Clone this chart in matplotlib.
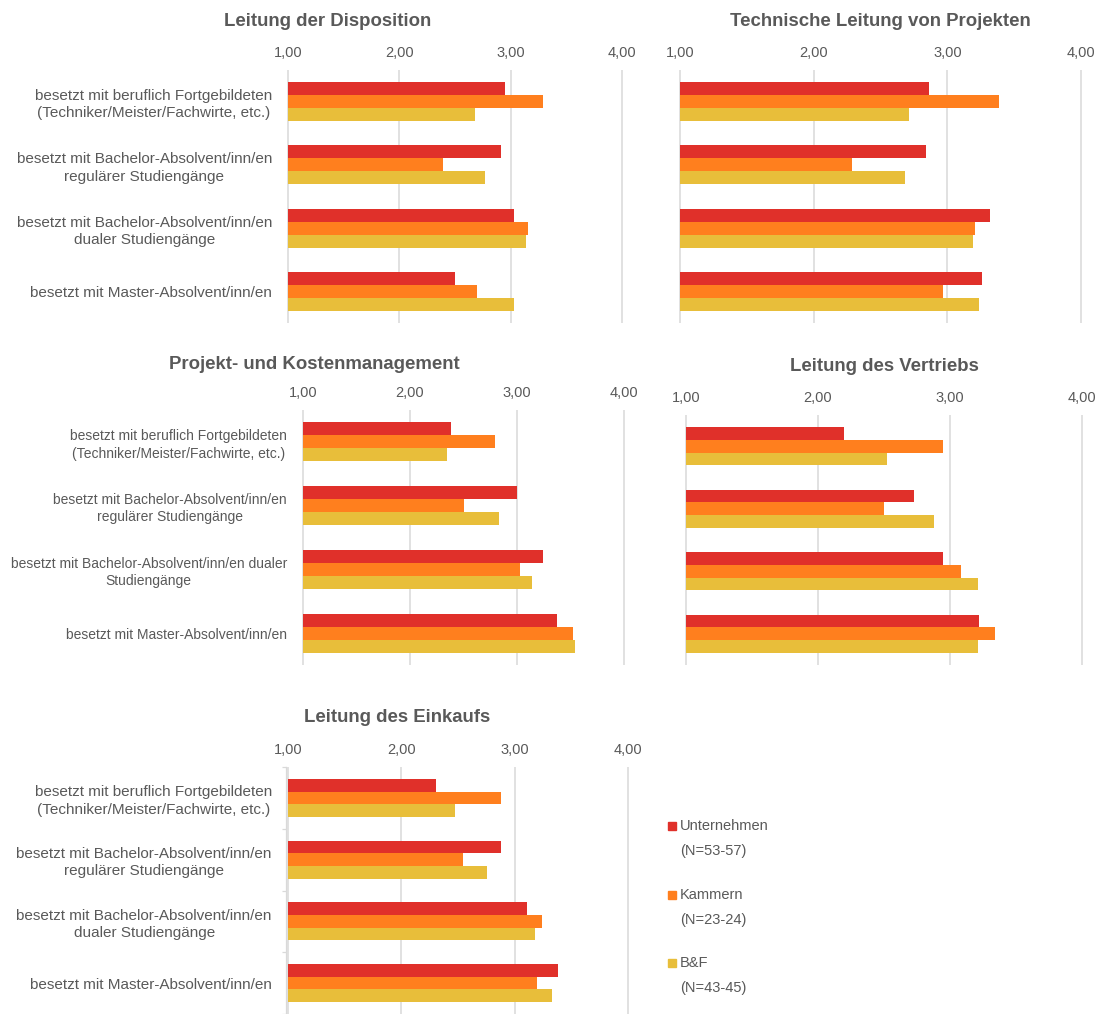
import matplotlib.pyplot as plt
from matplotlib.patches import Rectangle
import numpy as np

# series names and colours
series = ["Unternehmen", "Kammern", "B&F"]
series_n = ["(N=53-57)", "(N=23-24)", "(N=43-45)"]
colors = ["#E0302A", "#FF7F1E", "#E8BE3A"]

labels = ["besetzt mit beruflich Fortgebildeten\n(Techniker/Meister/Fachwirte, etc.)",
          "besetzt mit Bachelor-Absolvent/inn/en\nregulärer Studiengänge",
          "besetzt mit Bachelor-Absolvent/inn/en\ndualer Studiengänge",
          "besetzt mit Master-Absolvent/inn/en"]
labels_pk = ["besetzt mit beruflich Fortgebildeten\n(Techniker/Meister/Fachwirte, etc.)",
             "besetzt mit Bachelor-Absolvent/inn/en\nregulärer Studiengänge",
             "besetzt mit Bachelor-Absolvent/inn/en dualer\nStudiengänge",
             "besetzt mit Master-Absolvent/inn/en"]

ticks = [1, 2, 3, 4]
tick_labels = ["1,00", "2,00", "3,00", "4,00"]

# values per panel: [Unternehmen, Kammern, B&F], one entry per category
dispo_u = [2.95, 2.91, 3.03, 2.50]
dispo_k = [3.29, 2.39, 3.16, 2.70]
dispo_b = [2.68, 2.77, 3.14, 3.03]

techn_u = [2.86, 2.84, 3.32, 3.26]
techn_k = [3.39, 2.29, 3.21, 2.97]
techn_b = [2.71, 2.68, 3.19, 3.24]

pk_u = [2.38, 3.00, 3.24, 3.37]
pk_k = [2.79, 2.50, 3.03, 3.52]
pk_b = [2.35, 2.83, 3.14, 3.54]

vertr_u = [2.20, 2.73, 2.95, 3.22]
vertr_k = [2.95, 2.50, 3.08, 3.34]
vertr_b = [2.52, 2.88, 3.21, 3.21]

eink_u = [2.31, 2.88, 3.11, 3.38]
eink_k = [2.88, 2.54, 3.24, 3.20]
eink_b = [2.47, 2.76, 3.18, 3.33]

W, H = 1105, 1014
fig = plt.figure(figsize=(W / 100, H / 100), dpi=100)
txt = "#595959"
grid_c = "#D9D9D9"
font = "Liberation Sans"


def panel(x1, x4, ytop, ybot, vals, cat_labels, title, tx, ty, lab_fs=11, spine=False):
    ppu = (x4 - x1) / 3.0
    m = 0.02
    left = x1 - m * ppu
    right = x4 + m * ppu
    ax = fig.add_axes([left / W, 1 - ybot / H, (right - left) / W, (ybot - ytop) / H])
    y = np.arange(4)
    for i, v in enumerate(vals):
        ax.barh(y + (i - 1) * 0.205, np.array(v) - 1, left=1, height=0.205,
                color=colors[i], zorder=3)
    ax.set_xlim(1 - m, 4 + m)
    ax.set_ylim(3.5, -0.5)
    ax.set_xticks(ticks)
    ax.set_xticklabels(tick_labels, color=txt, fontsize=10.5, family=font)
    ax.xaxis.tick_top()
    ax.tick_params(axis="x", length=0, pad=7)
    ax.grid(axis="x", color=grid_c, linewidth=1.1, zorder=0)
    for s in ax.spines.values():
        s.set_visible(False)
    if spine:
        ax.spines["left"].set_visible(True)
        ax.spines["left"].set_color(grid_c)
        ax.spines["left"].set_linewidth(0.9)
        ax.spines["left"].set_bounds(-0.5, 3.5)
        ax.set_yticks([-0.5, 0.5, 1.5, 2.5, 3.5], minor=True)
        ax.tick_params(axis="y", which="minor", length=3, color=grid_c, width=0.9)
    ax.set_yticks(y)
    if cat_labels is not None:
        ax.set_yticklabels(cat_labels, color=txt, fontsize=lab_fs, family=font,
                           ha="right", multialignment="center", linespacing=1.3)
        ax.tick_params(axis="y", which="major", length=0, pad=10)
    else:
        ax.set_yticklabels([])
        ax.tick_params(axis="y", which="major", length=0)
    fig.text(tx / W, 1 - ty / H, title, ha="center", va="center", fontsize=13.4,
             fontweight="bold", color=txt, family=font)
    return ax


panel(288, 622, 70, 323, [dispo_u, dispo_k, dispo_b], labels,
      "Leitung der Disposition", 328, 22)
panel(680, 1081, 70, 323, [techn_u, techn_k, techn_b], None,
      "Technische Leitung von Projekten", 880, 22)
panel(303, 624, 410, 665, [pk_u, pk_k, pk_b], labels_pk,
      "Projekt- und Kostenmanagement", 314, 364, lab_fs=10)
panel(686, 1082, 415, 665, [vertr_u, vertr_k, vertr_b], None,
      "Leitung des Vertriebs", 884, 366)
panel(288, 628, 767, 1014, [eink_u, eink_k, eink_b], labels,
      "Leitung des Einkaufs", 397, 717, spine=True)

# legend
leg_y = [826, 895, 963]
for i in range(3):
    yy = leg_y[i]
    fig.patches.append(Rectangle((668 / W, 1 - (yy + 4) / H), 8 / W, 8 / H,
                                 transform=fig.transFigure, color=colors[i]))
    fig.text(680 / W, 1 - yy / H, series[i], va="center", ha="left",
             fontsize=10.5, color=txt, family=font)
    fig.text(680 / W, 1 - (yy + 25) / H, series_n[i], va="center", ha="left",
             fontsize=10.5, color=txt, family=font)

fig.savefig("out.png", dpi=100, facecolor="white")
